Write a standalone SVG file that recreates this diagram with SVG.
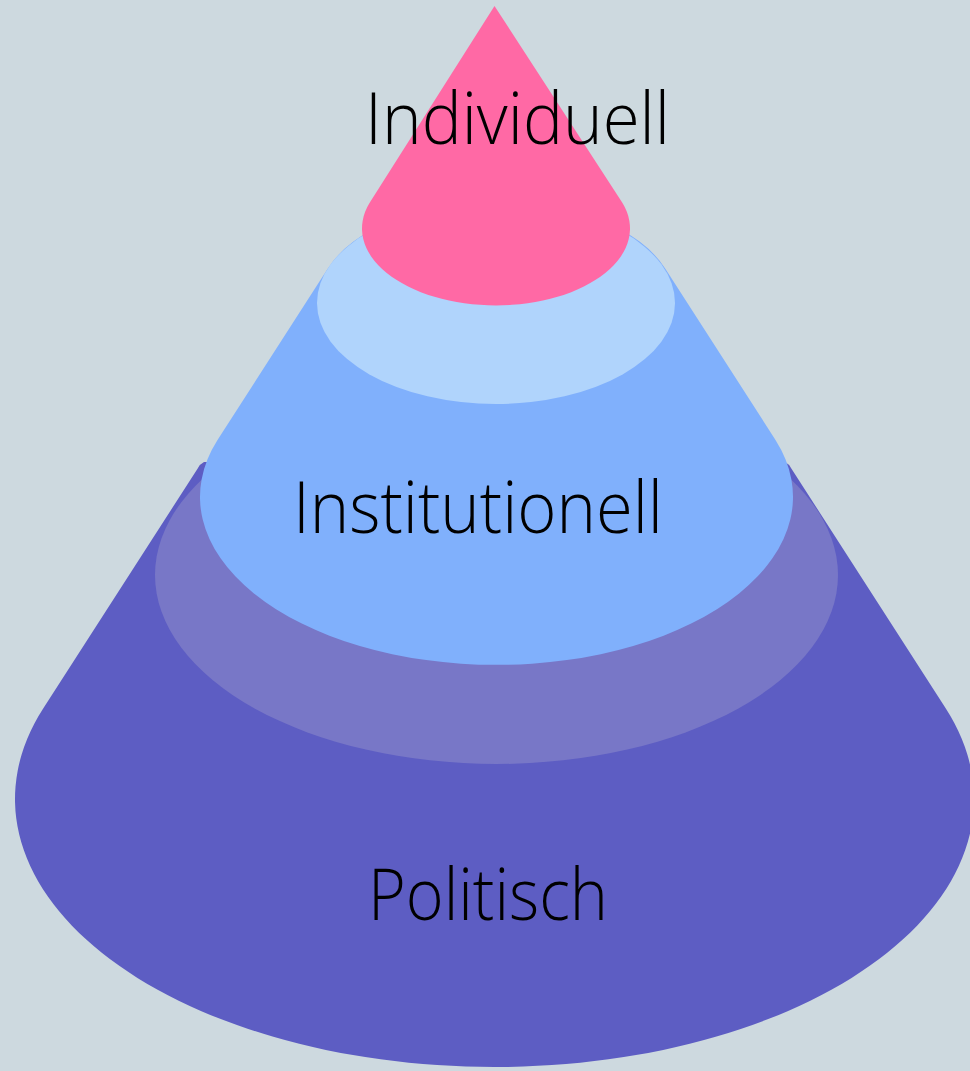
<svg xmlns="http://www.w3.org/2000/svg" width="970" height="1071" viewBox="0 0 970 1071">
  <style>
    .lbl { font-family: "Open Sans", "Liberation Sans", sans-serif; font-weight: 300; font-size: 72px; fill: #000; }
  </style>
  <rect x="0" y="0" width="970" height="1071" fill="#cdd9df"/>
  <g id="politisch">
    <path d="M 204,462 Q 200,464 198,468 L 43.5,708 A 479.5 268 0 1 0 945.5,708 L 791,468 Q 789,464 785,462 Z" fill="#5d5dc3"/>
    <ellipse cx="496.5" cy="575" rx="341.5" ry="189" fill="#7877c7"/>
  </g>
  <g id="institutionell">
    <path d="M 327.5,269 L 217.5,440 A 296.5 168 0 1 0 775.5,440 L 665.5,269 A 179 101 0 0 0 327.5,269 Z" fill="#80b0fc"/>
    <ellipse cx="496" cy="303" rx="179" ry="101" fill="#b0d4fc"/>
  </g>
  <g id="individuell">
    <path d="M 494.5,6 L 369.5,203 A 134 77 0 1 0 622.5,203 Z" fill="#ff69a5"/>
  </g>
  <g id="labels">
    <text class="lbl" x="365" y="144" textLength="305" lengthAdjust="spacingAndGlyphs">Individuell</text>
    <text class="lbl" x="293" y="533" textLength="370" lengthAdjust="spacingAndGlyphs">Institutionell</text>
    <text class="lbl" x="368" y="920" textLength="240" lengthAdjust="spacingAndGlyphs">Politisch</text>
  </g>
</svg>
